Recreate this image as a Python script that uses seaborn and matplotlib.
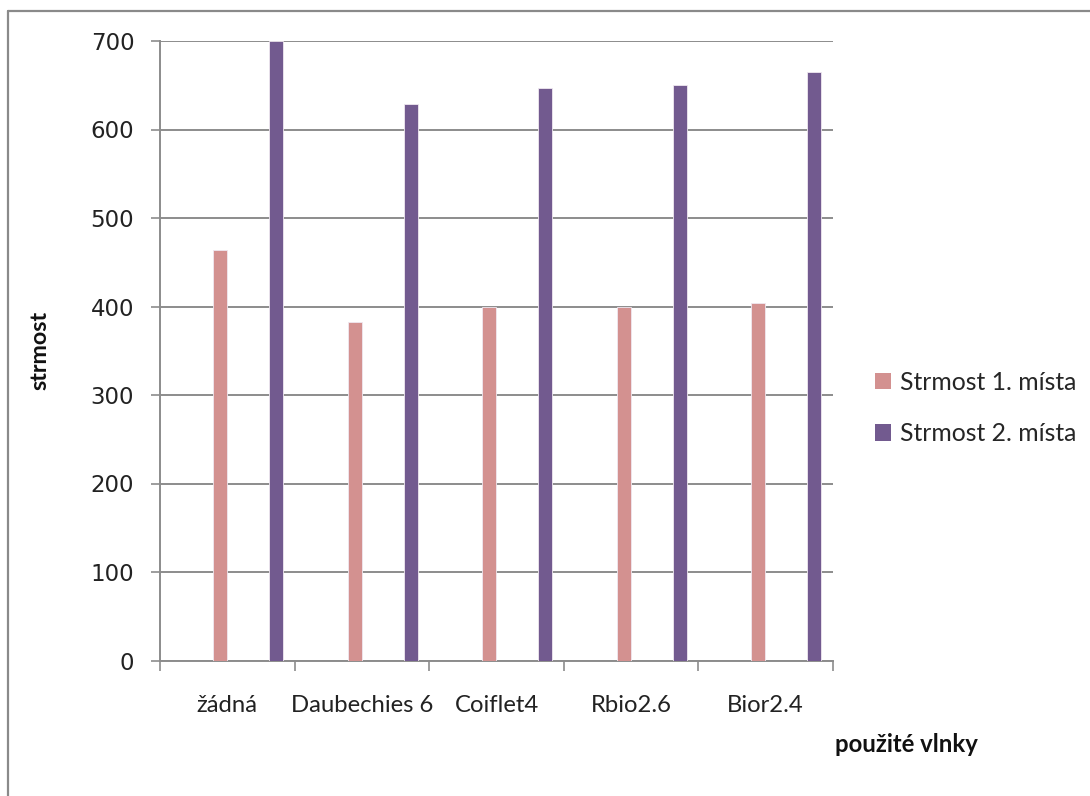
import numpy as np
import pandas as pd
import matplotlib
matplotlib.use("Agg")
import matplotlib.pyplot as plt
from matplotlib.lines import Line2D
import seaborn as sns

categories = ["žádná", "Daubechies 6", "Coiflet4", "Rbio2.6", "Bior2.4"]
series_names = ["Strmost 1. místa", "Strmost 2. místa"]
strmost_1 = [464, 383, 399, 400, 404]
strmost_2 = [700, 629, 647, 650, 665]
y_ticks = [0, 100, 200, 300, 400, 500, 600, 700]

colors = ["#D39190", "#725A8F"]
offsets = [-0.054, 0.362]
bar_w = 0.104

sns.set_theme(style="white")
plt.rcParams["font.family"] = ["Lato", "DejaVu Sans"]

W, H = 1090, 796
fig = plt.figure(figsize=(W / 100, H / 100), dpi=100)
L, R, T, B = 160, 833, 41, 660.5
ax = fig.add_axes([L / W, 1 - B / H, (R - L) / W, (B - T) / H])

idx = np.arange(len(categories))
for vals, off, col in zip([strmost_1, strmost_2], offsets, colors):
    df = pd.DataFrame({"pos": idx + off, "val": vals})
    sns.barplot(data=df, x="pos", y="val", native_scale=True, width=bar_w,
                color=col, saturation=1, edgecolor="#f0e8f0", linewidth=0.6,
                ax=ax, zorder=3)

grid_c = "#8c8c8c"
ax.set_xlim(-0.5, len(categories) - 0.5)
ax.set_ylim(0, 700)
ax.set_yticks(y_ticks)
ax.set_yticklabels([str(v) for v in y_ticks], family="DejaVu Sans",
                   fontsize=16.5, color="#222222")
ax.yaxis.grid(True, color=grid_c, linewidth=1.4)
ax.xaxis.grid(False)
ax.set_axisbelow(True)
ax.tick_params(axis="y", which="major", length=6.5, width=1.2, color=grid_c,
               pad=12, left=True)

ax.set_xticks(np.arange(len(categories) + 1) - 0.5)
ax.set_xticklabels([])
ax.set_xticks(idx, minor=True)
ax.set_xticklabels(categories, minor=True, fontsize=17.2, color="#222222")
ax.tick_params(axis="x", which="major", length=7, width=1.2, color=grid_c,
               bottom=True, direction="out")
ax.tick_params(axis="x", which="minor", length=0, pad=25)

for s in ["top", "right"]:
    ax.spines[s].set_visible(False)
for s in ["left", "bottom"]:
    ax.spines[s].set_visible(True)
    ax.spines[s].set_color(grid_c)
    ax.spines[s].set_linewidth(1.4)

ax.set_xlabel("")
ax.set_ylabel("")
fig.text(40 / W, 1 - 350 / H, "strmost", rotation=90, fontsize=16.8,
         fontweight="bold", ha="center", va="center", color="#111111")
fig.text(835 / W, 1 - 745 / H, "použité vlnky", fontsize=17.2,
         fontweight="bold", ha="left", va="center", color="#111111")

handles = [plt.Rectangle((0, 0), 1, 1, facecolor=c, edgecolor="none") for c in colors]
fig.legend(handles, series_names, loc="center left",
           bbox_to_anchor=(863 / W, 1 - 408 / H), frameon=False,
           fontsize=17.8, handlelength=0.65, handleheight=0.65,
           handletextpad=0.35, labelspacing=1.15, borderpad=0)

# outer chart border
bc = "#8a8a8a"
fig.add_artist(Line2D([8 / W, 8 / W], [0, 1 - 11 / H], transform=fig.transFigure,
                      color=bc, linewidth=1.6))
fig.add_artist(Line2D([8 / W, 1], [1 - 11 / H, 1 - 11 / H], transform=fig.transFigure,
                      color=bc, linewidth=1.6))

fig.savefig("out.png", dpi=100, facecolor="white")
